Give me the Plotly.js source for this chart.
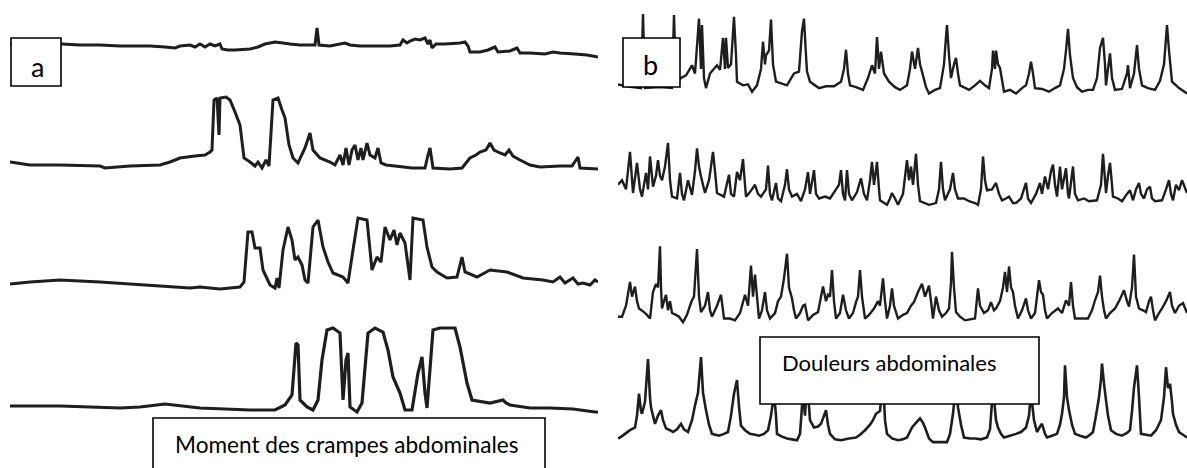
<!DOCTYPE html>
<html>
<head>
<meta charset="utf-8">
<script src="https://cdn.plot.ly/plotly-3.0.1.min.js"></script>
<style>
  html, body { margin: 0; padding: 0; background: #ffffff; }
  #chart { width: 1187px; height: 468px; }
</style>
</head>
<body>
<div id="chart"></div>
<script>
// ---------- DATA (time in arbitrary units, pressure in arbitrary units above baseline) ----------
// Panel a : crampes abdominales
const a1_t = [0,52,70,90,110,140,155,165,170,180,185,190,195,200,205,210,212,218,225,240,248,255,265,273,280,290,300,305,307,309,320,335,340,350,365,380,390,393,397,400,405,410,415,418,420,422,426,435,450,455,458,460,470,478,485,488,500,507,510,520,535,543,550,565,577,588];
const a1_p = [16,16,15,15,14,14,13,12,14,15,13,16,13,16,14,16,11,10,10,11,13,16,18,17,16,15,15,15,32,15,14,17,15,14,14,14,15,20,17,19,21,20,22,16,20,12,16,16,17,18,14,8,8,10,13,8,9,12,7,7,6,8,7,6,5,3];

const a2_t = [0,20,50,90,95,120,150,160,170,185,195,200,202,204,207,209,210,216,220,225,230,234,240,245,248,252,256,259,263,268,272,275,279,283,288,295,300,303,310,320,325,330,333,336,339,342,345,348,351,353,357,360,365,368,371,376,385,402,415,418,420,423,440,452,456,460,466,470,476,480,484,490,495,499,503,510,520,530,550,562,568,570,588];
const a2_p = [13,10,10,9,7,9,10,13,17,19,20,23,25,75,77,40,77,78,75,63,50,17,13,9,13,7,15,9,75,77,65,57,30,17,12,27,42,25,17,13,10,20,10,27,10,25,30,15,27,15,32,20,17,27,12,10,9,7,7,20,27,7,6,7,12,17,20,23,25,32,25,22,20,25,19,15,10,8,9,9,18,7,6];

const a3_t = [0,20,50,90,120,150,180,190,210,230,234,238,242,245,250,253,260,265,267,269,273,278,282,285,288,292,295,298,303,308,313,318,323,333,338,343,348,357,362,367,371,375,380,384,387,390,395,400,403,413,417,422,427,437,447,452,455,467,480,497,513,533,543,550,555,563,568,573,580,585,588];
const a3_p = [11,13,15,13,11,9,7,8,6,8,13,63,63,47,47,25,10,7,17,7,45,68,55,35,38,30,15,12,68,75,48,33,22,18,12,45,77,75,25,38,33,68,55,65,50,62,52,15,77,75,48,28,23,17,18,38,23,18,25,23,17,15,13,18,12,17,11,12,10,15,13];

const a4_t = [0,50,110,130,155,190,240,265,275,282,286,288,290,297,303,308,312,317,323,330,333,336,338,340,347,352,358,365,373,378,383,390,395,402,408,412,415,417,423,430,445,450,457,462,480,493,496,500,520,540,563,585,588];
const a4_p = [14,14,12,13,16,12,10,10,15,25,77,75,20,13,10,20,60,90,92,87,20,60,67,13,8,17,87,92,88,70,43,27,10,10,47,63,27,12,90,92,92,73,37,20,17,20,17,15,12,12,11,8,8];

// Panel b : douleurs abdominales
const b1_t = [0,14,23,25,27,42,54,56,58,63,68,74,77,81,83,84,86,88,92,99,102,105,107,108,110,113,116,118,119,125,130,134,139,143,145,147,148,151,153,155,158,169,176,181,184,186,188,189,192,201,208,216,223,226,228,230,232,238,245,250,254,257,259,261,263,266,271,277,282,289,292,294,297,300,302,304,308,311,317,322,326,328,329,331,333,336,338,340,342,351,357,362,367,371,374,375,377,378,380,382,386,392,398,404,408,411,413,415,417,424,431,437,442,446,448,450,452,455,459,464,470,475,479,482,485,487,488,490,492,494,497,504,509,510,512,516,519,521,524,530,537,542,546,549,551,554,561,569];
const b1_p = [13,10,9,90,9,10,9,89,15,20,23,34,25,85,30,78,20,9,25,34,29,64,30,64,31,35,87,45,16,12,13,5,12,30,60,35,45,50,84,35,16,12,25,27,71,85,45,27,16,9,11,11,16,30,51,25,12,10,7,20,34,25,65,30,49,25,16,10,7,12,30,49,30,53,35,27,10,3,7,9,35,65,78,45,20,35,42,25,12,7,12,17,12,9,30,50,30,50,35,31,5,7,3,9,12,25,38,25,9,8,5,9,12,30,50,74,45,20,10,5,7,7,20,53,64,35,12,30,47,20,7,8,25,34,9,25,56,30,12,9,7,17,35,78,50,16,9,3];

const b2_t = [0,4,8,12,15,19,22,24,28,30,32,35,38,40,42,44,47,50,52,54,59,62,64,66,70,74,77,79,81,83,87,91,93,95,97,99,106,111,113,116,119,122,125,127,128,132,137,140,143,148,150,152,154,158,160,163,167,169,171,174,179,183,187,190,192,196,198,201,207,212,218,221,223,225,227,229,231,234,239,243,246,249,252,254,256,259,261,262,269,272,274,277,280,285,289,291,293,295,298,300,302,311,318,321,323,325,327,332,335,337,340,346,351,357,360,363,365,367,369,374,378,381,384,388,391,395,398,403,408,410,413,418,422,424,427,430,433,435,437,439,442,444,448,450,451,455,457,460,466,471,479,483,485,487,488,490,492,494,495,500,504,509,512,515,518,521,523,526,529,532,534,537,544,548,551,553,555,558,561,564,569];
const b2_p = [25,30,20,61,16,49,20,12,38,20,56,23,35,52,35,30,45,71,30,12,10,38,15,8,30,14,40,65,45,34,16,30,45,61,40,16,12,36,15,12,39,30,53,25,12,17,25,15,12,20,46,15,8,27,10,7,25,42,20,12,15,7,20,39,15,41,15,10,12,10,20,25,41,15,8,41,15,8,17,32,15,8,30,50,25,50,20,8,3,10,16,10,3,15,52,30,45,25,59,25,7,3,5,20,50,20,8,20,38,20,10,10,7,5,3,20,56,30,19,20,27,15,8,10,12,5,5,10,27,10,5,15,27,15,34,20,40,47,25,12,45,20,43,15,10,45,15,8,10,7,8,25,59,30,16,35,49,25,12,10,7,15,19,8,20,27,15,10,20,23,10,7,8,20,30,15,8,25,19,30,16];

const b3_t = [0,4,8,12,14,17,19,21,26,29,32,35,38,40,42,43,44,46,48,50,52,54,58,61,65,69,72,74,76,79,81,83,87,90,92,94,99,103,105,106,112,117,122,127,130,133,135,137,139,141,144,147,149,152,157,160,163,166,169,171,174,176,178,182,185,187,189,190,195,200,203,205,208,210,212,214,216,218,222,225,228,231,235,238,240,242,244,247,251,256,260,262,265,267,269,272,274,276,280,285,289,293,296,300,304,307,311,313,315,318,321,324,328,331,333,334,336,338,342,347,352,357,360,362,366,370,373,376,378,382,385,387,389,391,393,395,397,400,404,408,410,413,417,419,421,423,425,427,429,434,440,444,448,451,453,455,457,464,470,474,477,480,482,484,486,488,492,497,501,504,506,509,511,514,516,518,521,525,528,531,533,535,537,541,544,548,552,554,557,561,565,569];
const b3_p = [8,8,20,46,30,41,25,17,13,10,6,35,44,40,85,40,17,25,32,15,25,12,10,8,2,10,20,26,30,82,30,13,20,35,15,8,20,32,15,6,6,4,12,32,20,64,30,54,30,6,15,35,15,6,12,25,30,50,77,40,28,15,6,12,20,21,10,4,10,13,30,41,25,32,30,59,25,6,12,32,15,6,12,24,30,59,30,6,10,17,25,20,50,25,6,20,39,20,6,10,12,20,24,35,44,30,42,25,6,30,15,8,12,17,45,79,40,13,8,4,5,6,39,20,12,15,24,15,17,25,40,57,35,63,40,35,20,6,15,28,15,6,12,30,48,35,32,15,6,12,17,12,26,20,46,20,6,6,6,15,26,35,53,30,15,6,12,17,25,32,37,25,19,40,76,30,17,15,13,25,30,15,4,12,17,25,35,20,12,20,23,12];

const b4_t = [0,2,7,12,17,19,21,23,24,27,30,32,33,35,37,40,43,45,48,52,55,59,63,66,70,74,77,80,83,85,88,91,94,101,106,110,113,116,119,121,123,127,132,137,141,146,150,153,156,158,159,164,169,174,179,182,185,187,189,192,196,200,203,206,208,210,212,217,223,231,238,242,247,252,255,258,262,265,267,269,274,280,285,289,294,298,302,305,307,311,315,322,329,332,335,338,340,343,346,352,357,363,369,372,375,378,380,383,386,392,398,403,408,411,413,416,419,422,424,427,429,434,439,442,444,446,447,449,451,454,457,462,468,472,475,478,481,483,484,486,488,490,493,498,504,509,512,514,516,519,521,523,528,533,538,543,546,548,550,552,554,555,558,561,565,569];
const b4_p = [5,6,10,14,17,30,54,35,32,45,92,50,39,30,21,30,36,25,16,14,12,15,21,15,12,25,41,55,94,55,36,20,10,8,10,12,30,54,69,40,19,14,10,9,8,10,14,30,54,30,10,7,5,4,3,10,55,30,70,25,17,18,21,30,36,20,10,4,3,5,6,9,14,20,25,32,35,70,25,10,5,3,4,6,17,22,27,22,17,5,1,1,1,10,32,65,39,20,6,5,5,4,6,15,60,25,17,10,6,8,10,12,17,30,55,25,12,18,21,10,6,8,10,20,32,50,85,50,36,20,10,8,6,9,12,30,50,70,87,65,47,30,14,10,8,11,14,35,61,85,50,10,9,8,14,25,50,83,60,65,45,32,20,12,9,6];

const panelLabels = ['a', 'b'];
const captionA = 'Moment des crampes abdominales';
const captionB = 'Douleurs abdominales';

// ---------- LAYOUT (pixel geometry of the page) ----------
const W = 1187, H = 468;
const px = x => x / W;
const py = y => 1 - y / H;

// each track: where pressure 0 sits (px), px per unit, visible pressure range
const tracks = [
  {t: a1_t, p: a1_p, panel: 0, y0: 60,    s: 1,     pr: [-8, 45],  w: 3.0},
  {t: a2_t, p: a2_p, panel: 0, y0: 175,   s: 1,     pr: [-8, 90],  w: 3.0},
  {t: a3_t, p: a3_p, panel: 0, y0: 295,   s: 1,     pr: [-8, 90],  w: 3.0},
  {t: a4_t, p: a4_p, panel: 0, y0: 420,   s: 1,     pr: [-8, 100], w: 3.2},
  {t: b1_t, p: b1_p, panel: 1, y0: 96.3,  s: 0.913, pr: [-8, 100], w: 2.4},
  {t: b2_t, p: b2_p, panel: 1, y0: 207.6, s: 0.913, pr: [-8, 100], w: 2.4},
  {t: b3_t, p: b3_p, panel: 1, y0: 324,   s: 0.913, pr: [-8, 100], w: 2.4},
  {t: b4_t, p: b4_p, panel: 1, y0: 443,   s: 0.913, pr: [-8, 100], w: 2.6}
];
const panels = [
  {x0: 10,  x1: 598,  tr: [0, 588]},
  {x0: 618, x1: 1187, tr: [0, 569]}
];

const layout = {
  width: W, height: H,
  margin: {l: 0, r: 0, t: 0, b: 0, pad: 0},
  paper_bgcolor: '#ffffff',
  plot_bgcolor: 'rgba(0,0,0,0)',
  showlegend: false,
  shapes: [], annotations: []
};
const hidden = {visible: false, showgrid: false, zeroline: false, fixedrange: true};

panels.forEach((pn, i) => {
  const key = i === 0 ? 'xaxis' : 'xaxis2';
  layout[key] = Object.assign({}, hidden, {
    domain: [px(pn.x0), Math.min(1, px(pn.x1))],
    range: pn.tr,
    anchor: 'y' + (i === 0 ? '' : '5')
  });
});

const data = [];
tracks.forEach((tk, i) => {
  const n = i + 1;
  const yKey = n === 1 ? 'yaxis' : 'yaxis' + n;
  const bottom = tk.y0 - tk.s * tk.pr[0];
  const top = tk.y0 - tk.s * tk.pr[1];
  layout[yKey] = Object.assign({}, hidden, {
    domain: [py(bottom), py(top)],
    range: tk.pr,
    anchor: tk.panel === 0 ? 'x' : 'x2'
  });
  data.push({
    type: 'scatter', mode: 'lines',
    x: tk.t, y: tk.p,
    xaxis: tk.panel === 0 ? 'x' : 'x2',
    yaxis: n === 1 ? 'y' : 'y' + n,
    line: {color: '#1e1e1e', width: tk.w, simplify: false},
    hoverinfo: 'skip'
  });
});

// label boxes (white-filled, drawn over the traces)
const boxes = [
  [11, 38, 61, 86],
  [623, 38, 680, 87],
  [153, 418, 545, 480],
  [760, 337, 1039, 404]
];
boxes.forEach(b => layout.shapes.push({
  type: 'rect', xref: 'paper', yref: 'paper', layer: 'above',
  x0: px(b[0]), x1: px(b[2]), y0: py(b[3]), y1: py(b[1]),
  line: {color: '#000000', width: 1.6}, fillcolor: '#ffffff'
}));

const font = 'Lato, "Open Sans", sans-serif';
const notes = [
  {text: panelLabels[0], x: 37.5, y: 67, size: 27, anchor: 'center'},
  {text: panelLabels[1], x: 650,  y: 65, size: 27, anchor: 'center'},
  {text: captionA,       x: 173,  y: 444, size: 22.6, anchor: 'left'},
  {text: captionB,       x: 780,  y: 362, size: 22, anchor: 'left'}
];
notes.forEach(a => layout.annotations.push({
  text: a.text, xref: 'paper', yref: 'paper',
  x: px(a.x), y: py(a.y), xanchor: a.anchor, yanchor: 'middle',
  showarrow: false, font: {family: font, size: a.size, color: '#000000'}
}));

Plotly.newPlot('chart', data, layout, {displayModeBar: false, staticPlot: true});
</script>
</body>
</html>
